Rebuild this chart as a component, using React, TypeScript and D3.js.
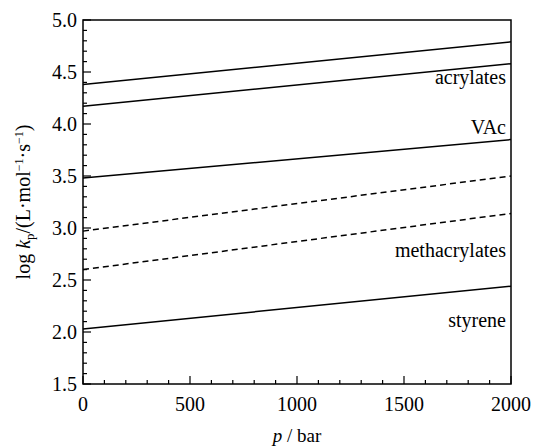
import * as d3 from "d3";

// p / bar endpoints and log kp values
const pressures = [0, 2000];
const acrylatesUpper = [4.38, 4.79];
const acrylatesLower = [4.17, 4.58];
const vac = [3.48, 3.85];
const methacrylatesUpper = [2.97, 3.5];
const methacrylatesLower = [2.6, 3.14];
const styrene = [2.03, 2.44];

const yTicks = [1.5, 2.0, 2.5, 3.0, 3.5, 4.0, 4.5, 5.0];
const xTicks = [0, 500, 1000, 1500, 2000];

const series = [
  { values: acrylatesUpper, dash: false },
  { values: acrylatesLower, dash: false },
  { values: vac, dash: false },
  { values: methacrylatesUpper, dash: true },
  { values: methacrylatesLower, dash: true },
  { values: styrene, dash: false },
];

// label baselines in data units
const labels = [
  { text: "acrylates", y: 4.385 },
  { text: "VAc", y: 3.9 },
  { text: "methacrylates", y: 2.72 },
  { text: "styrene", y: 2.05 },
];

export default function App() {
  const width = 533;
  const height = 448;
  const margin = { top: 20, right: 22, bottom: 64, left: 83 };

  const x = d3.scaleLinear([0, 2000], [margin.left, width - margin.right]);
  const y = d3.scaleLinear([1.5, 5.0], [height - margin.bottom, margin.top]);

  const line = d3
    .line<[number, number]>()
    .x((d) => x(d[0]))
    .y((d) => y(d[1]));

  const yMinor = d3.range(15, 51).map((v) => v / 10);
  const xMinor = d3.range(0, 2001, 100);
  const font = "'Liberation Serif', 'Times New Roman', serif";

  return (
    <svg
      width={width}
      height={height}
      style={{ position: "absolute", left: 0, top: 0, background: "#fff" }}
      fontFamily={font}
    >
      <rect
        x={x(0)}
        y={y(5)}
        width={x(2000) - x(0)}
        height={y(1.5) - y(5)}
        fill="none"
        stroke="#000"
        strokeWidth={1.5}
      />
      {yMinor.map((v) => {
        const major = Math.abs(v * 2 - Math.round(v * 2)) < 1e-6;
        return (
          <line
            key={"y" + v}
            x1={x(0)}
            x2={x(0) + (major ? 8 : 4)}
            y1={y(v)}
            y2={y(v)}
            stroke="#000"
            strokeWidth={1.2}
          />
        );
      })}
      {xMinor.map((v) => (
        <line
          key={"x" + v}
          x1={x(v)}
          x2={x(v)}
          y1={y(1.5)}
          y2={y(1.5) - (v % 500 === 0 ? 8 : 4)}
          stroke="#000"
          strokeWidth={1.2}
        />
      ))}
      {yTicks.map((v) => (
        <text
          key={"yl" + v}
          x={x(0) - 6}
          y={y(v)}
          dy="0.35em"
          textAnchor="end"
          fontSize={20}
        >
          {v.toFixed(1)}
        </text>
      ))}
      {xTicks.map((v) => (
        <text
          key={"xl" + v}
          x={x(v)}
          y={y(1.5) + 27}
          textAnchor="middle"
          fontSize={20}
        >
          {v}
        </text>
      ))}
      {series.map((s, i) => (
        <path
          key={i}
          d={line(pressures.map((p, j) => [p, s.values[j]] as [number, number])) ?? ""}
          fill="none"
          stroke="#000"
          strokeWidth={1.5}
          strokeDasharray={s.dash ? "6,4" : undefined}
        />
      ))}
      {labels.map((l) => (
        <text
          key={l.text}
          x={x(2000) - 5}
          y={y(l.y)}
          textAnchor="end"
          fontSize={20}
        >
          {l.text}
        </text>
      ))}
      <text x={(x(0) + x(2000)) / 2} y={442} textAnchor="middle" fontSize={19}>
        <tspan fontStyle="italic">p</tspan> / bar
      </text>
      <text
        transform={`translate(30,${(y(1.5) + y(5)) / 2}) rotate(-90)`}
        textAnchor="middle"
        fontSize={20}
      >
        log <tspan fontStyle="italic">k</tspan>
        <tspan fontSize={13} dy={4}>p</tspan>
        <tspan dy={-4}>/(L·mol</tspan>
        <tspan fontSize={12} dy={-7}>−1</tspan>
        <tspan dy={7}>·s</tspan>
        <tspan fontSize={12} dy={-7}>−1</tspan>
        <tspan dy={7}>)</tspan>
      </text>
    </svg>
  );
}
